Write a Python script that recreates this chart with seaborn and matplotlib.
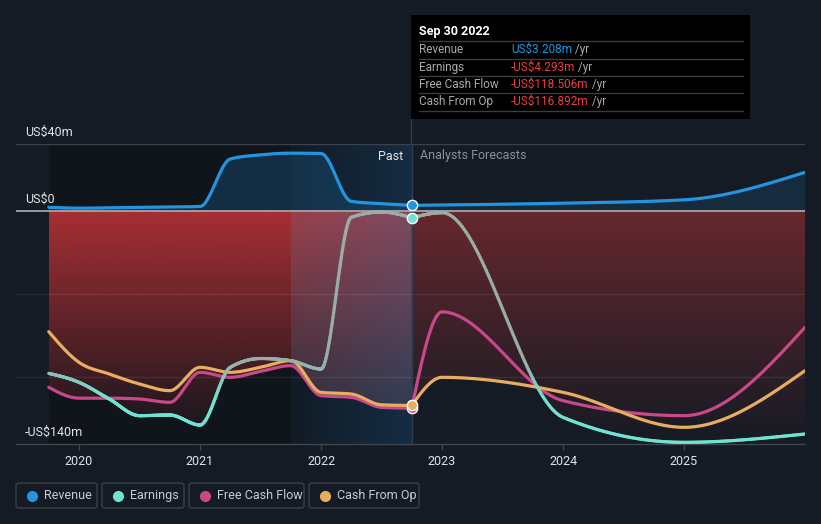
import numpy as np
import pandas as pd
import seaborn as sns
import matplotlib.pyplot as plt
from matplotlib.patches import Rectangle, FancyBboxPatch, Polygon
from matplotlib.collections import LineCollection
from matplotlib.lines import Line2D
from matplotlib.text import Annotation
from matplotlib.colors import to_rgb

sns.set_theme(style="dark")
plt.rcParams['font.family'] = ['Roboto', 'DejaVu Sans']

# quarterly history (US$m), Sep 2019 .. Sep 2022
past_x = [2019.75, 2020.0, 2020.25, 2020.5, 2020.75, 2021.0, 2021.25,
          2021.5, 2021.75, 2022.0, 2022.25, 2022.5, 2022.75]
revenue_past = [2.0, 1.5, 1.7, 2.0, 2.2, 2.5, 31.0, 33.5, 34.5, 34.3, 5.6, 4.2, 3.208]
earnings_past = [-97.6, -103, -113, -123, -122.6, -128.6, -94, -88.7, -90, -95, -4, -0.8, -4.293]
fcf_past = [-106, -112.5, -112.5, -113, -115, -97, -100, -96.4, -93, -111, -112, -118, -118.506]
cfo_past = [-72.6, -91, -98, -104, -108, -94, -97, -94, -90, -109, -110, -116.5, -116.892]

# analyst forecasts
fc_x = [2022.75, 2023.0, 2024.0, 2025.0, 2026.0]
revenue_fc = [3.208, 3.4, 4.5, 6.5, 23.0]
earnings_fc = [-4.293, -1.2, -124, -139, -134]
fcf_fc = [-118.506, -60.7, -114, -123, -70]
cfo_fc = [-116.892, -100, -109, -130, -96]

years = [2020, 2021, 2022, 2023, 2024, 2025]
series_names = ["Revenue", "Earnings", "Free Cash Flow", "Cash From Op"]
colors = ["#2394df", "#6fe3d1", "#c9488a", "#e8ae5f"]
tip_values = ["US$3.208m", "-US$4.293m", "-US$118.506m", "-US$116.892m"]

BG = "#151b24"
now = 2022.75
band_start = 2021.75


def monotone(xs, ys, n=60):
    # d3 style monotoneX curve, only for drawing
    xs = np.asarray(xs, float)
    ys = np.asarray(ys, float)
    h = np.diff(xs)
    s = np.diff(ys) / h
    m = np.zeros_like(ys)
    for i in range(1, len(xs) - 1):
        p = (s[i - 1] * h[i] + s[i] * h[i - 1]) / (h[i - 1] + h[i])
        m[i] = (np.sign(s[i - 1]) + np.sign(s[i])) * min(abs(s[i - 1]), abs(s[i]), 0.5 * abs(p))
    m[0] = (3 * s[0] - m[1]) / 2
    m[-1] = (3 * s[-1] - m[-2]) / 2
    ox, oy = [], []
    for i in range(len(xs) - 1):
        t = np.linspace(0, 1, n, endpoint=(i == len(xs) - 2))
        h00 = 2 * t**3 - 3 * t**2 + 1
        h10 = t**3 - 2 * t**2 + t
        h01 = -2 * t**3 + 3 * t**2
        h11 = t**3 - t**2
        ox.append(xs[i] + t * h[i])
        oy.append(h00 * ys[i] + h10 * h[i] * m[i] + h01 * ys[i + 1] + h11 * h[i] * m[i + 1])
    return np.concatenate(ox), np.concatenate(oy)


def px(x, y):
    return x / 821, 1 - y / 524


fig = plt.figure(figsize=(8.21, 5.24), dpi=100, facecolor=BG)
ax = fig.add_axes([16 / 821, 80 / 524, 789 / 821, 300 / 524])
ax.set_facecolor(BG)
XL = (2020 - 63 / 121, 2026.0)
YL = (-140, 40)


def vgrad(x0, x1, rgb, a_top, a_bot, clip, z):
    n = 256
    img = np.zeros((n, 1, 4))
    img[..., :3] = to_rgb(rgb)
    img[..., 3] = np.linspace(a_bot, a_top, n)[:, None]
    im = ax.imshow(img, extent=[x0, x1, YL[0], 0], origin='lower', aspect='auto',
                   zorder=z, interpolation='bilinear')
    im.set_clip_path(clip)


def poly(x, ytop, ybot):
    verts = np.column_stack([np.concatenate([x, x[::-1]]), np.concatenate([ytop, ybot[::-1]])])
    p = Polygon(verts, closed=True, fc='none', ec='none', transform=ax.transData)
    ax.add_patch(p)
    return p


# darker past region
ax.add_patch(Rectangle((past_x[0], YL[0]), now - past_x[0], YL[1] - YL[0],
                       color='black', alpha=0.2, lw=0, zorder=0.5))

# red area down to the lowest of the negative series
clips = []
for xs, data, a_top in [(past_x, [earnings_past, fcf_past, cfo_past], 0.72),
                        (fc_x, [earnings_fc, fcf_fc, cfo_fc], 0.4)]:
    curves = [monotone(xs, d) for d in data]
    xd = curves[0][0]
    low = np.minimum.reduce([c[1] for c in curves])
    low = np.minimum(low, 0)
    clip = poly(xd, np.zeros_like(xd), low)
    clips.append(clip)
    vgrad(xd[0], xd[-1], "#e23a3d", a_top, 0.0, clip, 1)

# revenue area
for xs, d, a in [(past_x, revenue_past, 0.2), (fc_x, revenue_fc, 0.14)]:
    xd, yd = monotone(xs, d)
    ax.fill_between(xd, 0, yd, color=colors[0], alpha=a, lw=0, zorder=1)

# last-year band: blue sweep plus a lighter veil over the red part
band = np.zeros((1, 200, 4))
band[..., :3] = to_rgb("#1f5f96")
band[..., 3] = np.linspace(0.08, 0.32, 200)
ax.imshow(band, extent=[band_start, now, YL[0], YL[1]], origin='lower', aspect='auto',
          zorder=1.5, interpolation='bilinear')
veil = np.zeros((1, 2, 4))
veil[..., :3] = to_rgb("#9aa6cc")
veil[..., 3] = 0.12
im = ax.imshow(veil, extent=[band_start, now, YL[0], 0], origin='lower', aspect='auto',
               zorder=1.55)
im.set_clip_path(clips[0])

# grid lines
ax.axhline(40, color="#3a414c", lw=1, zorder=1.6)
for g in [-50, -100]:
    ax.axhline(g, color="white", alpha=0.08, lw=1, zorder=1.6)
ax.axhline(0, color="#a3a3a8", lw=1.3, zorder=2)
ax.axvline(now, color="#2c3e52", lw=1, zorder=2)

# lines
for xs_, vals in [(past_x, [revenue_past, None, fcf_past, cfo_past]),
                  (fc_x, [revenue_fc, None, fcf_fc, cfo_fc])]:
    for i, v in enumerate(vals):
        if v is None:
            continue
        xd, yd = monotone(xs_, v)
        df = pd.DataFrame({"x": xd, "y": yd})
        sns.lineplot(data=df, x="x", y="y", color=colors[i], lw=2.3, ax=ax,
                     sort=False, estimator=None, zorder=3)

# earnings line: teal when low, muted over the red area
teal = np.array(to_rgb("#6fe3d1"))
grey = np.array(to_rgb("#9aaca6"))
for xs_, v in [(past_x, earnings_past), (fc_x, earnings_fc)]:
    xd, yd = monotone(xs_, v)
    pts = np.column_stack([xd, yd]).reshape(-1, 1, 2)
    segs = np.concatenate([pts[:-1], pts[1:]], axis=1)
    mid = (yd[:-1] + yd[1:]) / 2
    t = np.clip((mid + 112) / 22, 0, 1)[:, None]
    cols = teal * (1 - t) + grey * t
    ax.add_collection(LineCollection(segs, colors=cols, lw=2.3, zorder=3, capstyle='round'))

# markers at the latest reported point
for i, v in enumerate([revenue_past[-1], earnings_past[-1], fcf_past[-1], cfo_past[-1]]):
    ax.scatter([now], [v], s=55, color=colors[i], edgecolor='white', lw=1, zorder=5)

ax.set_xlim(*XL)
ax.set_ylim(*YL)
ax.set_xticks(years)
ax.set_xticklabels([str(y) for y in years])
ax.set_yticks([])
ax.set_xlabel("")
ax.set_ylabel("")
ax.grid(False)
for s in ['top', 'left', 'right']:
    ax.spines[s].set_visible(False)
ax.spines['bottom'].set_color("#3f4650")
ax.spines['bottom'].set_linewidth(1)
ax.tick_params(axis='x', colors="#3f4650", length=4, width=1, pad=4, labelcolor="#e2e4e8",
               labelsize=9, bottom=True)

# y labels
for label, ypx in [("US$40m", 132), ("US$0", 199), ("-US$140m", 432)]:
    ax.text(9 / 789, (444 - ypx) / 300, label, transform=ax.transAxes, color="#e2e4e8",
            fontsize=9, va='center', ha='left', zorder=6)

ax.text((403 - 16) / 789, (444 - 156) / 300, "Past", transform=ax.transAxes,
        color="#e6e6e6", fontsize=9, va='center', ha='right', zorder=6)
ax.text((420 - 16) / 789, (444 - 156) / 300, "Analysts Forecasts", transform=ax.transAxes,
        color="#8b9099", fontsize=9, va='center', ha='left', zorder=6)

# tooltip
fig.add_artist(Line2D([px(411, 0)[0]] * 2, [px(0, 119)[1], px(0, 144)[1]],
                      color="#2c3e52", lw=1))
x0, y0 = px(411, 119)
fig.add_artist(Rectangle((x0, y0), (750 - 411) / 821, 104 / 524, color='black', lw=0))
fig.text(*px(419, 31), "Sep 30 2022", color='white', fontsize=9, fontweight='bold', va='center')
for ysep in [41, 58.5, 76, 93, 111]:
    fig.add_artist(Line2D([px(419, 0)[0], px(743, 0)[0]], [px(0, ysep)[1]] * 2,
                          color="#3c3c3c", lw=1))
for i, (name, val, yrow) in enumerate(zip(series_names, tip_values, [49.5, 67, 84.5, 101.5])):
    fig.text(*px(419, yrow), name, color="#a9a9a9", fontsize=8.5, va='center')
    t = fig.text(*px(511, yrow), val, color=colors[0] if i == 0 else "#e8403f",
                 fontsize=8.5, va='center')
    fig.add_artist(Annotation(" /yr", xy=(1, 0.5), xycoords=t, va='center', ha='left',
                              color="#a9a9a9", fontsize=8.5, zorder=4))

# legend boxes
boxes = [(16, 97), (102, 184), (189, 304), (309, 419)]
for (bx0, bx1), name, c in zip(boxes, series_names, colors):
    lx, ly = px(bx0, 508)
    fig.add_artist(FancyBboxPatch((lx, ly), (bx1 - bx0) / 821, 25 / 524,
                                  boxstyle="round,pad=0,rounding_size=0.004",
                                  fc='none', ec="#3a404a", lw=1))
    fig.add_artist(Line2D([px(bx0 + 16, 0)[0]], [px(0, 495.5)[1]], marker='o', ms=7,
                          color=c, lw=0))
    fig.text(*px(bx0 + 28, 495.5), name, color="#c8ccd2", fontsize=9, va='center')

fig.savefig("out.png", dpi=100, facecolor=BG)
